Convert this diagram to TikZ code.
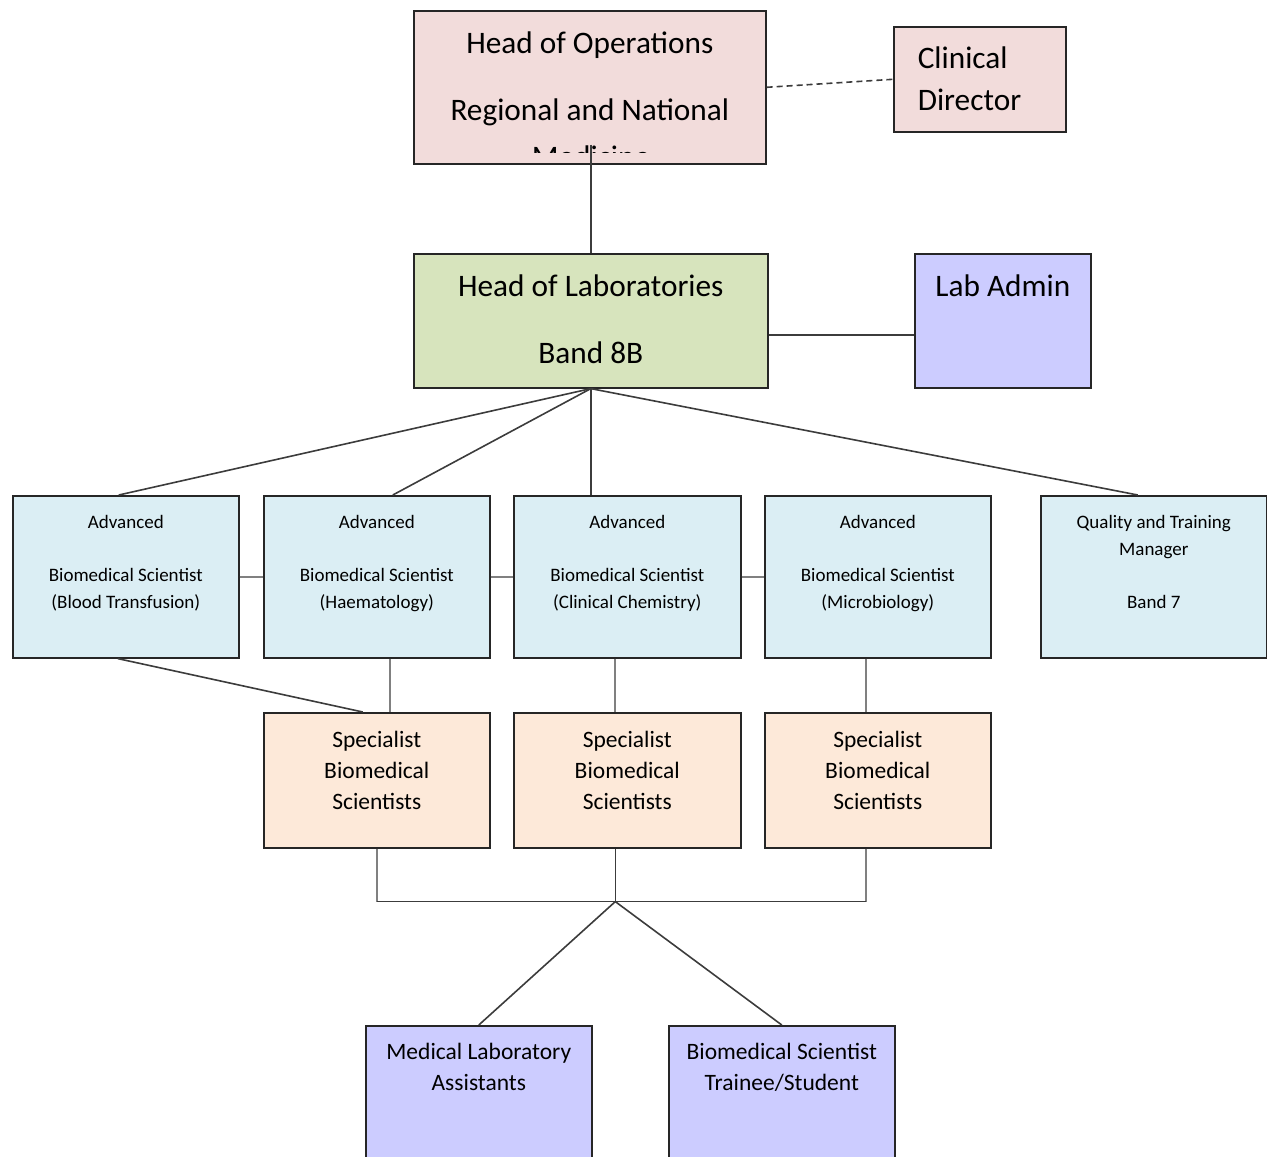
\documentclass[tikz,border=0pt]{standalone}
\usepackage{fontspec}
\setmainfont{Carlito}
\definecolor{ops}{RGB}{242,220,219}
\definecolor{lab}{RGB}{215,228,189}
\definecolor{adm}{RGB}{204,204,255}
\definecolor{adv}{RGB}{219,238,244}
\definecolor{spc}{RGB}{253,233,217}
\definecolor{boxedge}{RGB}{38,38,38}
\definecolor{lnk}{RGB}{60,60,60}
\definecolor{lnkgray}{RGB}{128,128,128}
\newcommand{\boxtext}[4]{\parbox[c][#2pt][t]{#1pt}{\centering\rule{0pt}{#3pt}#4\par}}
\tikzset{
  orgbox/.style={draw=boxedge, line width=1.6pt, inner sep=0pt, anchor=north west},
  bigtext/.style={font=\fontsize{31.3}{33.5}\selectfont},
  midtext/.style={font=\fontsize{23.5}{31}\selectfont},
  smalltext/.style={font=\fontsize{19}{26.5}\selectfont},
  orglink/.style={draw=lnk, line width=1.6pt},
  graylink/.style={draw=lnkgray, line width=2pt}
}
\begin{document}
\begin{tikzpicture}[x=1pt,y=-1pt]
\clip (0,0) rectangle (1267,1157);
\node[orgbox,bigtext,fill=ops] (ops) at (413,10) {\boxtext{352}{153}{43}{Head of Operations\\[\baselineskip]Regional and National}};
\begin{scope}
  \clip (413,10) rectangle (765,152);
  \node[bigtext,anchor=base] (opsmed) at (591,167) {Medicine};
\end{scope}
\node[orgbox,bigtext,fill=ops] (clin) at (893,26) {\parbox[c][105pt][t]{172pt}{\raggedright\leftskip=24pt\rule{0pt}{42pt}Clinical\\[8.5pt]Director\par}};
\node[orgbox,bigtext,fill=lab] (labs) at (413,253) {\boxtext{354}{134}{43}{Head of Laboratories\\[\baselineskip]Band 8B}};
\node[orgbox,bigtext,fill=adm] (admin) at (914,253) {\boxtext{176}{134}{43}{Lab Admin}};
\node[orgbox,smalltext,fill=adv] (adv1) at (12,495) {\boxtext{226}{162}{33}{Advanced\\[\baselineskip]Biomedical Scientist\\(Blood Transfusion)}};
\node[orgbox,smalltext,fill=adv] (adv2) at (263,495) {\boxtext{226}{162}{33}{Advanced\\[\baselineskip]Biomedical Scientist\\(Haematology)}};
\node[orgbox,smalltext,fill=adv] (adv3) at (513,495) {\boxtext{227}{162}{33}{Advanced\\[\baselineskip]Biomedical Scientist\\(Clinical Chemistry)}};
\node[orgbox,smalltext,fill=adv] (adv4) at (764,495) {\boxtext{226}{162}{33}{Advanced\\[\baselineskip]Biomedical Scientist\\(Microbiology)}};
\node[orgbox,smalltext,fill=adv] (qtm) at (1040,495) {\boxtext{226}{162}{33}{Quality and Training\\Manager\\[\baselineskip]Band 7}};
\node[orgbox,midtext,fill=spc] (spec1) at (263,712) {\boxtext{226}{135}{35}{Specialist\\Biomedical\\Scientists}};
\node[orgbox,midtext,fill=spc] (spec2) at (513,712) {\boxtext{227}{135}{35}{Specialist\\Biomedical\\Scientists}};
\node[orgbox,midtext,fill=spc] (spec3) at (764,712) {\boxtext{226}{135}{35}{Specialist\\Biomedical\\Scientists}};
\node[orgbox,midtext,fill=adm] (mla) at (365,1025) {\boxtext{226}{160}{34}{Medical Laboratory\\Assistants}};
\node[orgbox,midtext,fill=adm] (bst) at (668,1025) {\boxtext{226}{160}{34}{Biomedical Scientist\\Trainee/Student}};
\coordinate (opsb) at ([yshift=20pt]ops.south);
\coordinate (adv1b) at ([xshift=-8pt]adv1.south);
\coordinate (adv2b) at ([xshift=13pt]adv2.south);
\coordinate (adv3b) at ([xshift=-12pt]adv3.south);
\coordinate (adv4b) at ([xshift=-12pt]adv4.south);
\coordinate (spec2b) at ([xshift=-12pt]spec2.south);
\coordinate (spec3b) at ([xshift=-12pt]spec3.south);
\coordinate (bus) at ([yshift=-53pt]spec2b);
\draw[orglink,dash pattern=on 6pt off 4pt] (ops.east) -- (clin.west);
\draw[orglink] (opsb -| labs.north) -- (labs.north);
\draw[orglink] ([yshift=-14pt]labs.east) -- ([yshift=-14pt]admin.west);
\draw[orglink] (labs.south) -- ([xshift=-7pt]adv1.north);
\draw[orglink] (labs.south) -- ([xshift=16pt]adv2.north);
\draw[orglink] (labs.south) -- (labs.south |- adv3.north);
\draw[orglink] (labs.south) -- ([xshift=-16pt]qtm.north);
\draw[graylink] (adv1.east) -- (adv2.west);
\draw[graylink] (adv2.east) -- (adv3.west);
\draw[graylink] (adv3.east) -- (adv4.west);
\draw[orglink] (adv1b) -- ([xshift=-14pt]spec1.north);
\draw[graylink] (adv2b) -- (adv2b |- spec1.north);
\draw[graylink] (adv3b) -- (adv3b |- spec2.north);
\draw[graylink] (adv4b) -- (adv4b |- spec3.north);
\draw[graylink] (spec1.south) -- (spec1.south |- bus);
\draw[graylink] (spec3b) -- (spec3b |- bus);
\draw[orglink] (spec1.south |- bus) -- (spec3b |- bus);
\draw[orglink] (spec2b) -- (bus);
\draw[orglink] (bus) -- (mla.north);
\draw[orglink] (bus) -- (bst.north);
\end{tikzpicture}
\end{document}
